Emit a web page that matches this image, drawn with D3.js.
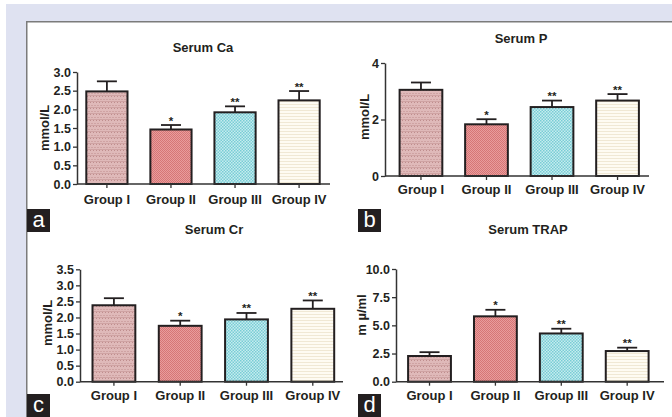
<!DOCTYPE html>
<html>
<head>
<meta charset="utf-8">
<script src="https://cdn.jsdelivr.net/npm/d3@7/dist/d3.min.js"></script>
<style>
  html, body { margin: 0; padding: 0; background: #fff; }
  svg { display: block; }
  text { font-family: "Liberation Sans", Arial, sans-serif; }
</style>
</head>
<body>
<svg id="chart" width="672" height="417"></svg>
<script>
// ---- data ----
const groups = ["Group I", "Group II", "Group III", "Group IV"];
const significance = ["", "*", "**", "**"];

const caMean = [2.48, 1.46, 1.92, 2.24];
const caErr  = [0.27, 0.12, 0.16, 0.25];
const caTicks = [0.0, 0.5, 1.0, 1.5, 2.0, 2.5, 3.0];

const pMean = [3.05, 1.83, 2.44, 2.67];
const pErr  = [0.26, 0.18, 0.23, 0.23];
const pTicks = [0, 2, 4];

const crMean = [2.38, 1.74, 1.94, 2.27];
const crErr  = [0.22, 0.16, 0.20, 0.26];
const crTicks = [0.0, 0.5, 1.0, 1.5, 2.0, 2.5, 3.0, 3.5];

const trapMean = [2.28, 5.80, 4.28, 2.72];
const trapErr  = [0.34, 0.58, 0.42, 0.30];
const trapTicks = [0.0, 2.5, 5.0, 7.5, 10.0];

// ---- page frame ----
const svg = d3.select("#chart");
svg.append("rect").attr("x", 6).attr("y", 4).attr("width", 666).attr("height", 413).attr("fill", "#dfe2f1");
svg.append("rect").attr("x", 26).attr("y", 21).attr("width", 646).attr("height", 396).attr("fill", "#fff");
svg.append("line").attr("x1", 26).attr("x2", 672).attr("y1", 21.75).attr("y2", 21.75).attr("stroke", "#7b7b7b").attr("stroke-width", 1.5);
svg.append("line").attr("x1", 26.75).attr("x2", 26.75).attr("y1", 21).attr("y2", 417).attr("stroke", "#7b7b7b").attr("stroke-width", 1.5);

// ---- bar textures ----
const defs = svg.append("defs");
function pat(id, w, h, bg, draw) {
  const p = defs.append("pattern").attr("id", id).attr("patternUnits", "userSpaceOnUse")
    .attr("width", w).attr("height", h);
  p.append("rect").attr("width", w).attr("height", h).attr("fill", bg);
  draw(p);
}
// Group I: dotted dusty pink with faint horizontal banding
pat("fill0", 3, 6, "#dfb9b9", p => {
  p.append("rect").attr("x", 0).attr("y", 0).attr("width", 1).attr("height", 1).attr("fill", "#bf8e8e");
  p.append("rect").attr("x", 1.5).attr("y", 3).attr("width", 1).attr("height", 1).attr("fill", "#bf8e8e");
  p.append("rect").attr("x", 0).attr("y", 5).attr("width", 3).attr("height", 1).attr("fill", "#cfa3a3");
});
// Group II: dense salmon dots
pat("fill1", 2, 2, "#e99c9c", p => {
  p.append("rect").attr("x", 0).attr("y", 0).attr("width", 1).attr("height", 1).attr("fill", "#d67676");
  p.append("rect").attr("x", 1).attr("y", 1).attr("width", 1).attr("height", 1).attr("fill", "#d67676");
});
// Group III: cyan checkerboard
pat("fill2", 3, 3, "#c6ecef", p => {
  p.append("rect").attr("x", 0).attr("y", 0).attr("width", 1.5).attr("height", 1.5).attr("fill", "#79cdd5");
  p.append("rect").attr("x", 1.5).attr("y", 1.5).attr("width", 1.5).attr("height", 1.5).attr("fill", "#79cdd5");
});
// Group IV: cream with thin horizontal lines
pat("fill3", 4, 3, "#fefbf2", p => {
  p.append("rect").attr("x", 0).attr("y", 2).attr("width", 4).attr("height", 1).attr("fill", "#f0e8d4");
});

// ---- panel layout ----
const panels = [
  { title: "Serum Ca", unit: "mmol/L", mean: caMean, err: caErr, ticks: caTicks, max: 3.0, fmt: ".1f",
    axisX: [77, 330], bandX: [86.3, 319.7], yRange: [184, 72], inner: 0.357,
    titleY: 51.5, titleX: 203, unitX: 44, unitY: 128, xLabY: 203.5, tag: "a", tagXY: [27, 209] },
  { title: "Serum P", unit: "mmol/L", mean: pMean, err: pErr, ticks: pTicks, max: 4, fmt: "d",
    axisX: [385, 649], bandX: [399.6, 638.9], yRange: [176, 63], inner: 0.348,
    titleY: 42.5, titleX: 521, unitX: 364.5, unitY: 117, xLabY: 193.5, tag: "b", tagXY: [358, 209] },
  { title: "Serum Cr", unit: "mmol/L", mean: crMean, err: crErr, ticks: crTicks, max: 3.5, fmt: ".1f",
    axisX: [80, 343], bandX: [92.5, 334.2], yRange: [381.7, 269.3], inner: 0.354,
    titleY: 233.5, titleX: 214, unitX: 47, unitY: 323, xLabY: 400, tag: "c", tagXY: [27, 394] },
  { title: "Serum TRAP", unit: "m \u00b5/ml", mean: trapMean, err: trapErr, ticks: trapTicks, max: 10, fmt: ".1f",
    axisX: [396, 664], bandX: [408.1, 648.6], yRange: [381.7, 269], inner: 0.35,
    titleY: 233.5, titleX: 528, unitX: 361, unitY: 315, xLabY: 400, tag: "d", tagXY: [358, 394] }
];

const ink = "#231f20";

panels.forEach(pn => {
  const g = svg.append("g");
  const x = d3.scaleBand().domain(groups).range(pn.bandX).paddingInner(pn.inner).paddingOuter(0);
  const y = d3.scaleLinear().domain([0, pn.max]).range(pn.yRange);
  const y0 = y(0);

  // title
  g.append("text").attr("x", pn.titleX).attr("y", pn.titleY).attr("text-anchor", "middle")
    .attr("font-size", 13).attr("font-weight", "bold").attr("fill", ink).text(pn.title);

  // y axis
  const yAxis = d3.axisLeft(y).tickValues(pn.ticks).tickFormat(d3.format(pn.fmt))
    .tickSize(4).tickPadding(2).tickSizeOuter(0);
  const ya = g.append("g").attr("transform", `translate(${pn.axisX[0]},0)`).call(yAxis);
  ya.select(".domain").attr("stroke", "#333").attr("stroke-width", 1.5);
  ya.selectAll(".tick line").attr("stroke", "#333").attr("stroke-width", 1.3);
  ya.selectAll(".tick text").attr("font-size", 12.5).attr("font-weight", "bold").attr("fill", ink)
    .attr("font-family", "'Liberation Sans', Arial, sans-serif");

  // y axis label
  g.append("text").attr("transform", `translate(${pn.unitX},${pn.unitY}) rotate(-90)`)
    .attr("text-anchor", "middle").attr("dy", "0.35em")
    .attr("font-size", 13).attr("font-weight", "bold").attr("fill", ink).text(pn.unit);

  // bars
  groups.forEach((gr, i) => {
    const bx = x(gr), bw = x.bandwidth();
    const top = y(pn.mean[i]);
    const cap = y(pn.mean[i] + pn.err[i]);
    const cx = bx + bw / 2;
    // upper error whisker
    g.append("line").attr("x1", cx).attr("x2", cx).attr("y1", top).attr("y2", cap)
      .attr("stroke", ink).attr("stroke-width", 1.8);
    g.append("line").attr("x1", cx - 10).attr("x2", cx + 10).attr("y1", cap).attr("y2", cap)
      .attr("stroke", ink).attr("stroke-width", 1.8);
    g.append("rect").attr("x", bx).attr("y", top).attr("width", bw).attr("height", y0 - top)
      .attr("fill", `url(#fill${i})`).attr("stroke", ink).attr("stroke-width", 2);
    if (significance[i]) {
      g.append("text").attr("x", cx).attr("y", cap - 0.5).attr("text-anchor", "middle")
        .attr("font-size", 11.5).attr("font-weight", "bold").attr("fill", ink).text(significance[i]);
    }
  });

  // x axis
  const xAxis = d3.axisBottom(x).tickSize(4).tickSizeOuter(0).tickFormat(() => "");
  const xa = g.append("g").attr("transform", `translate(0,${y0})`).call(xAxis);
  xa.select(".domain").remove();
  xa.selectAll(".tick line").attr("stroke", "#333").attr("stroke-width", 1.3);
  g.append("line").attr("x1", pn.axisX[0]).attr("x2", pn.axisX[1]).attr("y1", y0).attr("y2", y0)
    .attr("stroke", "#333").attr("stroke-width", 1.5);
  groups.forEach(gr => {
    g.append("text").attr("x", x(gr) + x.bandwidth() / 2).attr("y", pn.xLabY).attr("text-anchor", "middle")
      .attr("font-size", 13).attr("font-weight", "bold").attr("fill", ink).text(gr);
  });

  // panel tag
  g.append("rect").attr("x", pn.tagXY[0]).attr("y", pn.tagXY[1]).attr("width", 23).attr("height", 23).attr("fill", ink);
  g.append("text").attr("x", pn.tagXY[0] + 11.5).attr("y", pn.tagXY[1] + 18).attr("text-anchor", "middle")
    .attr("font-size", 22).attr("fill", "#fff").text(pn.tag);
});
</script>
</body>
</html>
